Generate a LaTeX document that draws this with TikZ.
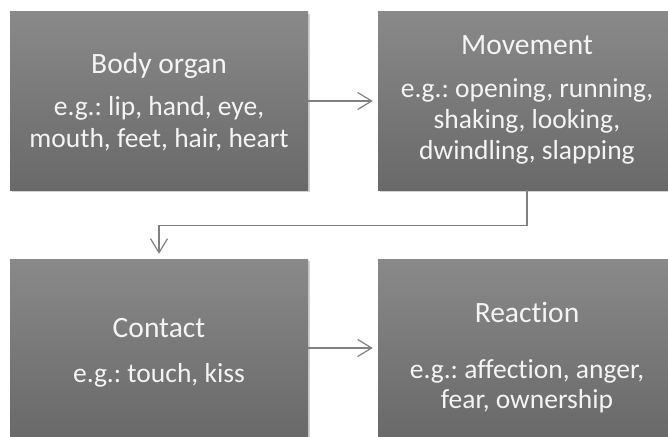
\documentclass[tikz,border=0pt]{standalone}
\usepackage{fontspec}
\setmainfont[Ligatures=NoCommon]{Carlito}
\usetikzlibrary{arrows.meta,shadows}
\definecolor{boxtop}{HTML}{898989}
\definecolor{boxbot}{HTML}{696969}
\definecolor{txtc}{HTML}{F4F4F4}
\definecolor{linec}{HTML}{808080}
\frenchspacing
\begin{document}
\begin{tikzpicture}[x=1pt,y=1pt,
  box/.style={rectangle, minimum width=298pt, minimum height=178pt, inner sep=0pt,
    top color=boxtop, bottom color=boxbot, draw=none,
    drop shadow={shadow xshift=2pt, shadow yshift=-2pt, opacity=0.3, fill=black!60}},
  ttl/.style={text=txtc, font=\fontsize{29.5}{34}\selectfont, anchor=base, inner sep=0pt},
  desc/.style={text=txtc, font=\fontsize{27.5}{32}\selectfont, anchor=base, inner sep=0pt},
  conn/.style={draw=linec, line width=1.2pt, -{Straight Barb[length=14pt,width=17pt]}, shorten >=5pt}]
\useasboundingbox (0,0) rectangle (668,-436);
\begin{scope}
\clip (0,0) rectangle (668,-436);
\node[box] (b1) at (159,-101) {};
\node[box] (b2) at (527,-101) {};
\node[box] (b3) at (159,-348) {};
\node[box] (b4) at (527,-348) {};

\node[ttl] (t1) at (159,-73) {Body organ};
\node[desc] (d1a) at (159,-115) {e.g.: lip, hand, eye,};
\node[desc] (d1b) at (159,-147) {mouth, feet, hair, heart};

\node[ttl] (t2) at (527,-55) {Movement};
\node[desc] (d2a) at (527,-97) {e.g.: opening, running,};
\node[desc] (d2b) at (527,-128) {shaking, looking,};
\node[desc] (d2c) at (527,-159) {dwindling, slapping};

\node[ttl] (t3) at (159,-337) {Contact};
\node[desc] (d3a) at (159,-382) {e.g.: touch, kiss};

\node[ttl] (t4) at (527,-322) {Reaction};
\node[desc] (d4a) at (527,-378) {e.g.: affection, anger,};
\node[desc] (d4b) at (527,-408) {fear, ownership};

\draw[conn] (b1.east) -- (b2.west);
\draw[conn] (b2.south) -- ++(0,-35) -| (b3.north);
\draw[conn] (b3.east) -- (b4.west);
\end{scope}
\end{tikzpicture}
\end{document}
